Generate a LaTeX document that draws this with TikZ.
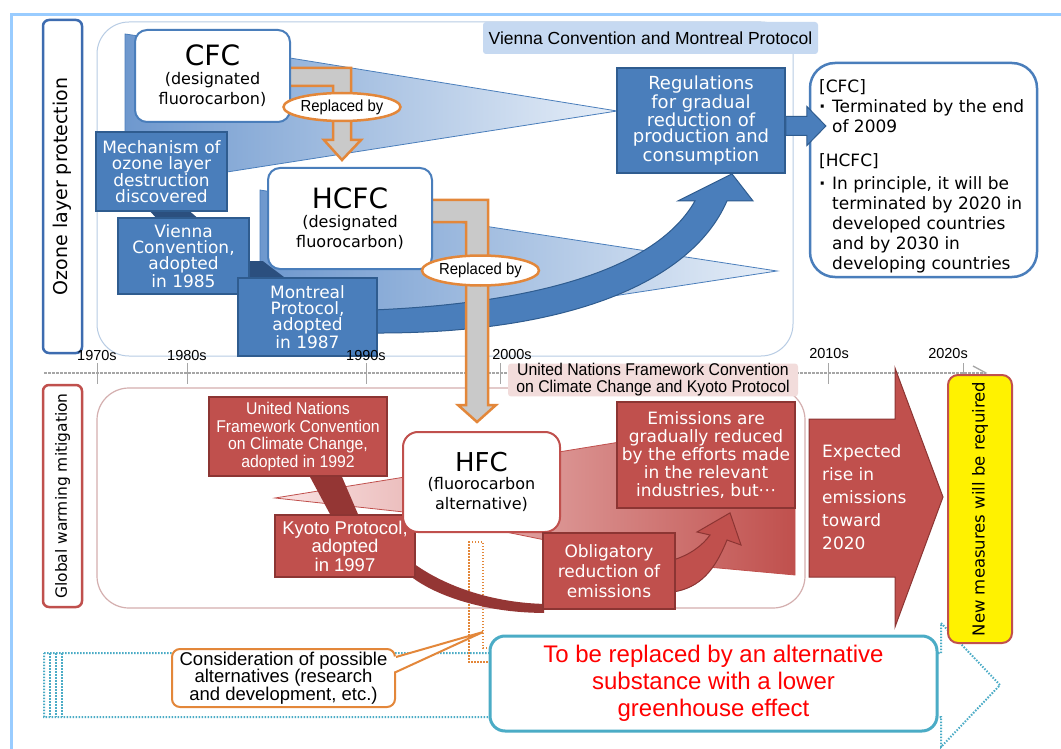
\documentclass[tikz,border=0pt]{standalone}
\usepackage{fontspec}
\setmainfont{DejaVu Sans}
\newfontfamily\libfont{Liberation Sans}
\newfontfamily\libcond[FakeStretch=0.93]{Liberation Sans}
\usetikzlibrary{shapes.geometric,calc}
\newcommand\myfs[2]{\fontsize{#1}{#2}\selectfont}
\definecolor{bfill}{HTML}{4A7EBB}
\definecolor{bdraw}{HTML}{2F5C8F}
\definecolor{bdark}{HTML}{2B4F7E}
\definecolor{blight}{HTML}{C6D9F1}
\definecolor{bwL}{HTML}{6E98CE}
\definecolor{bwR}{HTML}{E6EEF8}
\definecolor{rfill}{HTML}{C0504D}
\definecolor{rdraw}{HTML}{8C3533}
\definecolor{rdark}{HTML}{943634}
\definecolor{rlight}{HTML}{F2DCDB}
\definecolor{rwL}{HTML}{FAE3E3}
\definecolor{orng}{HTML}{E3873A}
\definecolor{gfill}{HTML}{C9C9C9}
\definecolor{tealb}{HTML}{4BACC6}
\definecolor{frameb}{HTML}{99CCFF}
\definecolor{regb}{HTML}{B8CCE4}
\definecolor{lowreg}{HTML}{D4AFAF}
\definecolor{ozb}{HTML}{3D6CB0}
\definecolor{tlgray}{HTML}{A6A6A6}
\pgfdeclarelayer{wedge}
\pgfdeclarelayer{conn}
\pgfdeclarelayer{front}
\pgfsetlayers{wedge,conn,main,front}
\begin{document}
\begin{tikzpicture}[x=1pt,y=-1pt,
  bluebox/.style={rectangle, fill=bfill, draw=bdraw, line width=1.8pt, text=white, align=center, inner sep=0pt, font=\myfs{17}{16}},
  redbox/.style={rectangle, fill=rfill, draw=rdraw, line width=1.8pt, text=white, align=center, inner sep=0pt},
  gasbox/.style={rectangle, rounded corners=12pt, fill=white, line width=2pt, align=center, inner sep=0pt, font=\myfs{16}{20}},
  replell/.style={ellipse, draw=orng, line width=2.5pt, fill=white, inner sep=0pt, font=\libcond\myfs{16}{18}},
  graybar/.style={fill=gfill, draw=orng, line width=2.5pt, line join=miter},
  tlabel/.style={font=\libfont\myfs{14.5}{16}, inner sep=0pt},
  tlmark/.style={draw=tlgray, line width=1pt},
  sidebox/.style={rectangle, rotate=90, rounded corners=6pt, fill=white, line width=2.5pt, inner sep=0pt},
  dotb/.style={tealb, line width=2pt, dash pattern=on 1.5pt off 1.5pt},
]
\useasboundingbox (0,0) rectangle (1061,749);

% ---------------- background layer: frame, regions, timeline, wedges
\begin{pgfonlayer}{wedge}
\fill[white] (0,0) rectangle (1061,749);
\draw[frameb, line width=3pt] (11.5,749) -- (11.5,14.5) -- (1061,14.5);
\draw[regb, line width=1pt, rounded corners=32pt] (97,22) rectangle (793,356);
\draw[lowreg, line width=1.2pt, rounded corners=32pt] (97,388) rectangle (805,608);
% timeline
\draw[tlgray, line width=1.5pt, dash pattern=on 3pt off 1pt] (44,373) -- (986,373);
\draw[tlgray, line width=1.3pt] (973,366) -- (986,373) -- (973,380);
\foreach \tx in {97,187,366,500,828,963} \draw[tlmark] (\tx,363) -- (\tx,384);
% CFC wedge
\path[draw=bfill, line width=0.8pt, left color=bwL, right color=bwR]
  (125,34) -- (290,58) -- (617,111) -- (227,172) -- (125,172) -- cycle;
% HCFC wedge
\path[draw=bfill, line width=0.8pt, left color=bwL, right color=bwR]
  (260,190) -- (432,218) -- (777,271) -- (377,332) -- (260,300) -- cycle;
% HFC wedge
\path[draw=rfill, line width=0.8pt, left color=rwL, right color=rfill]
  (275,498) -- (405,477) -- (620,442) -- (795,425) -- (795,575) -- (675,564) -- (545,540) -- (413,513) -- cycle;
% dotted replacement arrow
\draw[dotb] (44,653) -- (941,653) -- (941,623) -- (1000,685) -- (941,747) -- (941,717) -- (44,717) -- cycle;
\foreach \dx in {50,56,62} \draw[dotb] (\dx,653) -- (\dx,717);
\end{pgfonlayer}

% ---------------- nodes
\node[sidebox, draw=ozb, minimum width=333, minimum height=39, font=\myfs{19}{20}] (ozone) at (62.5,186.5) {Ozone layer protection};
\node[sidebox, draw=rfill, minimum width=222, minimum height=39, font=\myfs{15.5}{17}] (global) at (62.5,496) {Global warming mitigation};

\node[rectangle, rounded corners=3pt, fill=blight, minimum width=335, minimum height=32, inner sep=0pt, font=\libfont\myfs{17.5}{19}] (vclabel) at (650.5,38) {Vienna Convention and Montreal Protocol};

\node[gasbox, draw=bfill, minimum width=155, minimum height=92] (cfc) at (212.5,76)
  {{\myfs{28}{30}CFC}\\[-1pt](designated\\fluorocarbon)};
\node[gasbox, draw=bfill, minimum width=164, minimum height=101] (hcfc) at (350,218.5)
  {{\myfs{28}{30}HCFC}\\[-1pt](designated\\fluorocarbon)};

\node[bluebox, minimum width=131, minimum height=79] (mech) at (161.5,171.5) {Mechanism of\\ozone layer\\destruction\\discovered};
\node[bluebox, minimum width=131, minimum height=76] (vienna) at (183.5,256) {Vienna\\Convention,\\adopted\\in 1985};
\node[bluebox, minimum width=139, minimum height=78] (montreal) at (307.5,317) {Montreal\\Protocol,\\adopted\\in 1987};
\node[bluebox, minimum width=168, minimum height=105, font=\myfs{18}{16.5}] (reg) at (701,120.5) {Regulations\\for gradual\\reduction of\\production and\\consumption};

\node[rectangle, rounded corners=25pt, draw=bfill, line width=2.5pt, fill=white, minimum width=227, minimum height=214, inner sep=0pt] (info) at (923.5,170) {};
\node[anchor=north west, align=left, inner sep=0pt, font=\myfs{17}{20}] (infotext) at (819,79)
  {[CFC]\\ \makebox[13pt][l]{\textbf{·}}Terminated by the end\\ \hspace*{13pt}of 2009\\[14pt] [HCFC]\\[3pt] \makebox[13pt][l]{\textbf{·}}In principle, it will be\\ \hspace*{13pt}terminated by 2020 in\\ \hspace*{13pt}developed countries\\ \hspace*{13pt}and by 2030 in\\ \hspace*{13pt}developing countries};
% arrow regulations -> info
\path[fill=bfill, draw=bdraw, line width=1pt] ($(reg.east)+(0,-4)$) -- ++(21,0) -- ++(0,-10) -- ++(19,19.5) -- ++(-19,19.5) -- ++(0,-10) -- ++(-21,0) -- cycle;

\node[replell, minimum width=90, minimum height=28] (repl1) at (342,107) {Replaced by};
\node[replell, minimum width=95, minimum height=30] (repl2) at (480.5,270.5) {Replaced by};

% lower part
\node[rectangle, rounded corners=3pt, fill=rlight, minimum width=290, minimum height=32, inner sep=0pt, align=center, font=\libcond\myfs{17}{17}] (unlabel) at (653,380) {United Nations Framework Convention\\on Climate Change and Kyoto Protocol};
\node[redbox, minimum width=178, minimum height=79, font=\libcond\myfs{17}{17.7}] (un92) at (298,436.5) {United Nations\\Framework Convention\\on Climate Change,\\adopted in 1992};
\node[redbox, minimum width=140, minimum height=62, font=\libfont\myfs{18.5}{18.5}] (kyoto) at (345,546) {Kyoto Protocol,\\adopted\\in 1997};
\node[gasbox, draw=rfill, rounded corners=15pt, minimum width=157, minimum height=100] (hfc) at (481.5,482)
  {{\myfs{26}{28}HFC}\\[-2pt](fluorocarbon\\alternative)};
\node[redbox, minimum width=178, minimum height=106, font=\myfs{17}{18}] (emis) at (706,455) {Emissions are\\gradually reduced\\by the efforts made\\in the relevant\\industries, but·\kern0.5pt·\kern0.5pt·};
\node[redbox, minimum width=132, minimum height=76, font=\myfs{17}{20}] (oblig) at (609,571) {Obligatory\\reduction of\\emissions};

% big arrow
\path[fill=rfill, draw=rdraw, line width=1pt] (809,419) -- (895,419) -- (895,368) -- (943,497) -- (895,627) -- (895,577) -- (809,577) -- cycle;
\node[anchor=west, align=left, text=white, inner sep=0pt, font=\myfs{17}{23}] (exptext) at (822,497) {Expected\\rise in\\emissions\\toward\\2020};

\node[rectangle, rotate=90, rounded corners=10pt, fill=yellow, draw=rfill, line width=2pt, minimum width=268, minimum height=64, inner sep=0pt, font=\myfs{16.5}{18}] (newm) at (980,509) {New measures will be required};

% bottom
\node[rectangle, rounded corners=8pt, draw=orng, line width=2pt, fill=white, minimum width=223, minimum height=58, inner sep=0pt, align=center, font=\libfont\myfs{18.5}{17.5}] (consid) at (283.5,678) {Consideration of possible\\alternatives (research\\and development, etc.)};
\coordinate (ctip) at (483,632);
\fill[white] ($(consid.east)+(-3,-21)$) -- (ctip) -- ($(consid.east)+(-3,-6)$) -- cycle;
\draw[orng, line width=2pt, line join=miter] ($(consid.east)+(0,-21)$) -- (ctip) -- ($(consid.east)+(0,-6)$);

\node[rectangle, rounded corners=15pt, draw=tealb, line width=3pt, fill=white, minimum width=447, minimum height=95, inner sep=0pt, align=center, text=red, font=\libfont\myfs{24}{27}] (replbox) at (713.5,683.5) {To be replaced by an alternative\\substance with a lower\\greenhouse effect};

% ---------------- connectors
\begin{pgfonlayer}{conn}
% curved arrow Montreal -> Regulations
\path[fill=bfill, draw=bdraw, line width=1pt]
  ($(montreal.east)+(-5,-7)$) .. controls (540,303) and (657,268) .. ($(reg.south)+(-6,27)$)
  -- ($(reg.south)+(-23,27)$) -- ($(reg.south)+(31,0)$) -- ($(reg.south)+(52,27)$) -- ($(reg.south)+(26,27)$)
  .. controls (690,286) and (560,334) .. ($(montreal.east)+(-5,16)$) -- cycle;
% dark links
\fill[bdark] ($(mech.south)+(-11,0)$) -- ($(mech.south)+(29,0)$) -- ($(vienna.north)+(13,0)$) -- ($(vienna.north)+(-28,0)$) -- cycle;
\fill[bdark] ($(vienna.north east)+(0,44)$) -- ($(vienna.north east)+(13,44)$) -- ($(montreal.north west)+(47,0)$) -- ($(montreal.north west)+(11,0)$) -- cycle;
% replaced-by arrows
\path[graybar] ($(cfc.east)+(-5,-8)$) -- ++(65,0) -- ++(0,72) -- ++(10,0) -- ++(-19,20) -- ++(-18,-20) -- ++(9,0) -- ++(0,-54) -- ++(-47,0) -- cycle;
\path[graybar] ($(hcfc.east)+(-5,-18.5)$) -- ++(60,0) -- ++(0,205) -- ++(8,0) -- ++(-19,17) -- ++(-19,-17) -- ++(8,0) -- ++(0,-183) -- ++(-38,0) -- cycle;
% orange dotted bracket
\draw[orng, line width=1.5pt, dash pattern=on 1.5pt off 1.5pt] (490,648) -- (483,648) -- (483,542) -- (469,542) -- (469,662) -- (490,662);
% red links
\fill[rdark] ($(un92.south)+(12,0)$) -- ($(un92.south)+(44,0)$) -- ($(kyoto.north)+(13,0)$) -- ($(kyoto.north)+(-15,0)$) -- cycle;
\fill[rdark] ($(kyoto.east)+(-3,17)$) .. controls (450,590) and (500,603) .. ($(oblig.south west)+(2,-6)$)
  -- ($(oblig.south west)+(2,3)$) .. controls (490,613) and (440,598) .. ($(kyoto.east)+(-3,32)$) -- cycle;
\path[fill=rfill, draw=rdraw, line width=1pt]
  ($(oblig.east)+(-3,-11)$) .. controls (690,555) and (703,545) .. (710,535)
  -- (697,532) -- ($(emis.south)+(24,4)$) -- (741,545) -- (727,540)
  .. controls (715,570) and (700,588) .. ($(oblig.east)+(-3,21)$) -- cycle;
\end{pgfonlayer}

% ---------------- timeline labels
\begin{pgfonlayer}{front}
\node[tlabel] (t1970) at (97,356) {1970s};
\node[tlabel] (t1980) at (187,356) {1980s};
\node[tlabel] (t1990) at (366,356) {1990s};
\node[tlabel] (t2000) at (512,355) {2000s};
\node[tlabel] (t2010) at (829,354) {2010s};
\node[tlabel] (t2020) at (948,354) {2020s};
\end{pgfonlayer}
\end{tikzpicture}
\end{document}
